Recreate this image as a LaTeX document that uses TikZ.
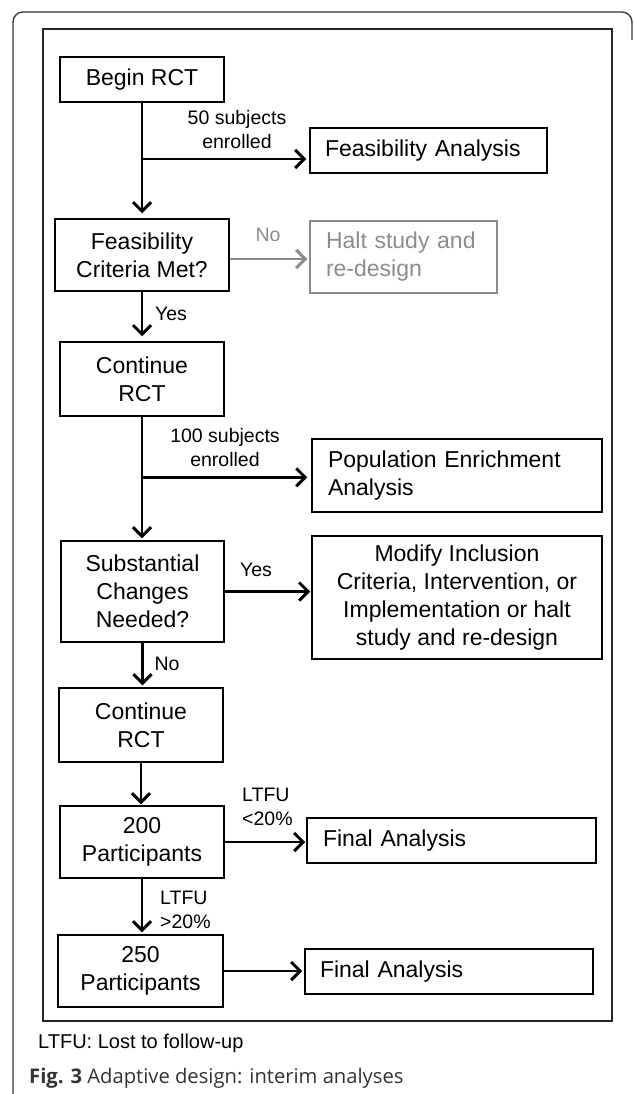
\documentclass[tikz,border=0pt]{standalone}
\usepackage{fontspec}
\setmainfont{Liberation Sans}
\newfontfamily\capfont{Open Sans}
\usetikzlibrary{arrows.meta}
\definecolor{haltgray}{gray}{0.55}
\definecolor{capgray}{gray}{0.2}
\tikzset{
  box/.style={draw, line width=1.5pt, rectangle, inner sep=0pt, align=center,
    font=\fontsize{23}{28}\selectfont},
  lbox/.style={box, align=left},
  flow/.style={line width=2.9pt, shorten >=2pt,
    -{Straight Barb[length=9pt,width=18pt]}},
  lbl/.style={inner sep=0pt, align=center, font=\fontsize{19.5}{24}\selectfont},
  frame/.style={line width=1.4pt, draw=black!85}
}
\begin{document}
\begin{tikzpicture}[x=1pt,y=-1pt]
\useasboundingbox (0,0) rectangle (633,1094);
% outer frame
\draw[line width=1.3pt, black!80, rounded corners=10pt] (13,1100) -- (13,12) -- (632,12) -- (632,40);
% inner frame
\draw[frame] (43,29) rectangle (612,1021);

% nodes
\node[box, minimum width=164pt, minimum height=45pt] (begin) at (142,79.5) {Begin RCT};
\node[lbox, minimum width=237pt, minimum height=45pt, text width=207pt] (feasA) at (428.5,150.5) {Feasibility Analysis};
\node[box, minimum width=174pt, minimum height=72pt] (feasC) at (142,255) {Feasibility\\Criteria Met?};
\node[lbox, draw=haltgray, text=haltgray, minimum width=187pt, minimum height=72pt, text width=155pt] (halt) at (403.5,257) {Halt study and\\re-design};
\node[box, minimum width=164pt, minimum height=74pt] (cont1) at (142,379) {Continue\\RCT};
\node[lbox, minimum width=290pt, minimum height=73pt, text width=258pt] (popA) at (457,475.5) {Population Enrichment\\Analysis};
\node[box, minimum width=163pt, minimum height=101pt] (sub) at (142.5,591.5) {Substantial\\Changes\\Needed?};
\node[box, minimum width=290pt, minimum height=123pt] (mod) at (457,597.5) {Modify Inclusion\\Criteria, Intervention, or\\Implementation or halt\\study and re-design};
\node[box, minimum width=164pt, minimum height=74pt] (cont2) at (141,725) {Continue\\RCT};
\node[box, minimum width=164pt, minimum height=72pt] (p200) at (142,842) {200\\Participants};
\node[lbox, minimum width=289pt, minimum height=45pt, text width=257pt] (fin1) at (451.5,840.5) {Final Analysis};
\node[box, minimum width=165pt, minimum height=72pt] (p250) at (140.5,971) {250\\Participants};
\node[lbox, minimum width=288pt, minimum height=45pt, text width=258pt] (fin2) at (449,971.5) {Final Analysis};

% helper coordinates
\coordinate (j1) at (142,159);
\coordinate (j2) at (142,477.3);
\coordinate (ny) at (0,259);

% connectors
\draw[flow, shorten >=5pt] (begin.south) -- (begin.south |- feasC.north);
\draw[flow, shorten >=3pt] (j1) -- (j1 -| feasA.west);
\draw[flow, draw=haltgray] (feasC.east |- ny) -- (halt.west |- ny);
\draw[flow, shorten >=5pt] (feasC.south) -- (feasC.south |- cont1.north);
\draw[flow] (cont1.south) -- (cont1.south |- sub.north);
\draw[flow, shorten >=4pt] (j2) -- (j2 -| popA.west);
\draw[flow, shorten >=1pt] (sub.east) -- (sub.east -| mod.west);
\draw[flow] (sub.south) -- (sub.south |- cont2.north);
\draw[flow, shorten >=1pt] (cont2.south) -- (cont2.south |- p200.north);
\draw[flow, shorten >=1pt] (p200.east) -- (p200.east -| fin1.west);
\draw[flow] (p200.south) -- (p200.south |- p250.north);
\draw[flow] (p250.east) -- (p250.east -| fin2.west);

% labels
\node[lbl] (l50) at (237,130) {50 subjects\\enrolled};
\node[lbl, text=haltgray] (lno1) at (268,235) {No};
\node[lbl] (lyes1) at (171,314) {Yes};
\node[lbl] (l100) at (225,448) {100 subjects\\enrolled};
\node[lbl] (lyes2) at (256,570) {Yes};
\node[lbl] (lno2) at (167,664) {No};
\node[lbl, anchor=west, align=left] (llt1) at (242,807) {LTFU\\<20\%};
\node[lbl, anchor=west, align=left] (llt2) at (160,910) {LTFU\\>20\%};

% captions
\node[anchor=west, inner sep=0pt, font=\fontsize{20}{24}\selectfont] (cap1) at (38,1043) {LTFU: Lost to follow-up};
\node[anchor=west, inner sep=0pt, text=capgray, font=\capfont\fontsize{20.2}{24}\selectfont] (cap2) at (29,1078) {\textbf{Fig. 3} Adaptive design: interim analyses};
\end{tikzpicture}
\end{document}
